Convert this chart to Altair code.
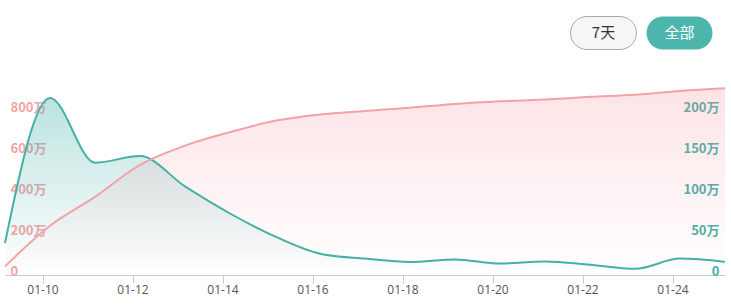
import altair as alt
import pandas as pd

# ---- data ----
dates = [
    "2023-01-09T04:00:00", "2023-01-10T04:00:00", "2023-01-11T04:00:00",
    "2023-01-12T04:00:00", "2023-01-13T04:00:00", "2023-01-14T04:00:00",
    "2023-01-15T04:00:00", "2023-01-16T04:00:00", "2023-01-17T04:00:00",
    "2023-01-18T04:00:00", "2023-01-19T04:00:00", "2023-01-20T04:00:00",
    "2023-01-21T04:00:00", "2023-01-22T04:00:00", "2023-01-23T04:00:00",
    "2023-01-24T04:00:00", "2023-01-25T04:00:00",
]
# cumulative series (left axis, pink), in 万
total_wan = [42, 240, 381, 537, 631, 697, 752, 783, 800, 816, 834, 847, 856, 869, 879, 898, 911]
# daily series (right axis, teal), in 万
daily_wan = [39, 216, 137, 145, 108, 75, 47, 26, 20, 16, 19, 14, 16.5, 12.5, 7.5, 20, 16]

left_ticks = [0, 2000000, 4000000, 6000000, 8000000]
right_ticks = [0, 500000, 1000000, 1500000, 2000000]
x_tick_days = [10, 12, 14, 16, 18, 20, 22, 24]
buttons = ["7天", "全部"]

df = pd.DataFrame({
    "date": dates,
    "total": [v * 10000 for v in total_wan],
    "daily": [v * 10000 for v in daily_wan],
})

PINK = "#f2a3a8"
TEAL = "#45b0a4"
FONT = "Noto Sans CJK SC"

label_expr = "datum.value == 0 ? '0' : format(datum.value / 10000, 'd') + '万'"

x_enc = alt.X(
    "date:T",
    scale=alt.Scale(domain=[alt.DateTime(year=2023, month=1, date=9, hours=4),
                            alt.DateTime(year=2023, month=1, date=25, hours=4)]),
    axis=alt.Axis(
        title=None, format="%m-%d", grid=False,
        values=[alt.DateTime(year=2023, month=1, date=d) for d in x_tick_days],
        domainColor="#c6ccd2", tickColor="#c6ccd2", tickSize=8,
        labelColor="#555555", labelFontSize=12, labelFont="Open Sans",
        labelPadding=1,
    ),
)

left_scale = alt.Scale(domain=[0, 10000000], nice=False)
right_scale = alt.Scale(domain=[0, 2500000], nice=False)

left_axis = alt.Axis(
    title=None, orient="left", values=left_ticks, labelExpr=label_expr,
    domain=False, ticks=False, tickSize=0, grid=False,
    labelAlign="left", labelPadding=-5, labelBaseline="alphabetic",
    labelColor=PINK, labelFont=FONT, labelFontWeight="bold", labelFontSize=13,
)
right_axis = alt.Axis(
    title=None, orient="right", values=right_ticks, labelExpr=label_expr,
    domain=False, ticks=False, tickSize=0, grid=False,
    labelAlign="right", labelPadding=-6, labelBaseline="alphabetic",
    labelColor=TEAL, labelFont=FONT, labelFontWeight="bold", labelFontSize=13,
)

teal_grad = alt.Gradient(
    gradient="linear", x1=0, x2=0, y1=0, y2=1,
    stops=[alt.GradientStop(color="rgba(77,182,172,0.38)", offset=0),
           alt.GradientStop(color="rgba(77,182,172,0.0)", offset=1)],
)
pink_grad = alt.Gradient(
    gradient="linear", x1=0, x2=0, y1=0, y2=1,
    stops=[alt.GradientStop(color="rgba(244,140,150,0.24)", offset=0),
           alt.GradientStop(color="rgba(244,140,150,0.0)", offset=1)],
)

base = alt.Chart(df)

green_area = base.mark_area(interpolate="monotone", color=teal_grad).encode(
    x=x_enc, y=alt.Y("daily:Q", scale=right_scale, axis=right_axis))
pink_area = base.mark_area(interpolate="monotone", color=pink_grad).encode(
    x=x_enc, y=alt.Y("total:Q", scale=left_scale, axis=left_axis))
green_line = base.mark_line(interpolate="monotone", color=TEAL, strokeWidth=2).encode(
    x=x_enc, y=alt.Y("daily:Q", scale=right_scale, axis=None))
pink_line = base.mark_line(interpolate="monotone", color=PINK, strokeWidth=2).encode(
    x=x_enc, y=alt.Y("total:Q", scale=left_scale, axis=None))

# buttons (UI decoration above the plot)
btn1 = alt.Chart(pd.DataFrame({"t": [buttons[0]]}))
btn2 = alt.Chart(pd.DataFrame({"t": [buttons[1]]}))
b1_rect = btn1.mark_rect(cornerRadius=17, fill="#f6f6f6", stroke="#a9a9a9", strokeWidth=1).encode(
    x=alt.value(565.5), x2=alt.value(631.5), y=alt.value(-53.5), y2=alt.value(-20.5))
b1_text = btn1.mark_text(fontSize=15, font=FONT, color="#333333", baseline="middle", align="center").encode(
    x=alt.value(598.5), y=alt.value(-37), text="t:N")
b2_rect = btn2.mark_rect(cornerRadius=17, fill="#4db6ac").encode(
    x=alt.value(641.5), x2=alt.value(707.5), y=alt.value(-53.5), y2=alt.value(-20.5))
b2_text = btn2.mark_text(fontSize=15, font=FONT, color="#ffffff", baseline="middle", align="center").encode(
    x=alt.value(674.5), y=alt.value(-37), text="t:N")

chart = alt.layer(
    green_area, pink_area, green_line, pink_line,
    b1_rect, b1_text, b2_rect, b2_text,
).resolve_scale(y="independent").properties(
    width=720, height=205,
    autosize=alt.AutoSizeParams(type="none"),
    padding={"left": 5, "top": 70, "right": 6, "bottom": 32},
    background="white",
).configure_view(stroke=None)

chart.save("out.html", embed_options={"renderer": "svg", "actions": False})
